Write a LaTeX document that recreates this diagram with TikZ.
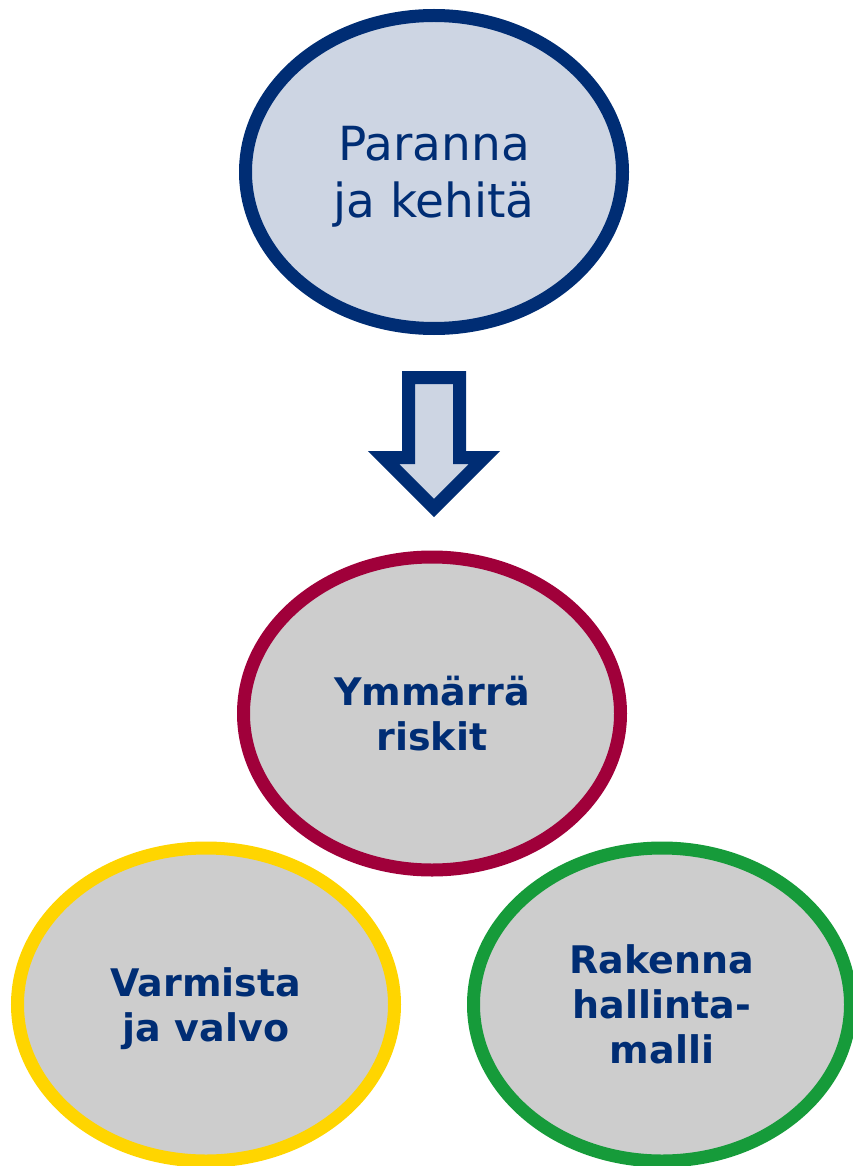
\documentclass[tikz,border=0pt]{standalone}
\usepackage{fontspec}
\setmainfont{DejaVu Sans}
\usetikzlibrary{shapes.geometric,positioning}
\definecolor{darkblue}{HTML}{002D74}
\definecolor{riskred}{HTML}{A0003A}
\definecolor{paleblue}{HTML}{CDD5E3}
\definecolor{ringgray}{HTML}{CDCDCD}
\definecolor{gold}{HTML}{FFD500}
\definecolor{leafgreen}{HTML}{169B3A}
\begin{document}
\begin{tikzpicture}[x=1pt,y=-1pt,line join=miter,
  phase/.style={ellipse,draw,line width=13pt,inner sep=0pt,minimum width=377pt,minimum height=313pt,text depth=0pt,
    fill=ringgray,text=darkblue,align=center,font=\fontsize{38}{45}\selectfont\bfseries}]
\useasboundingbox (0,0) rectangle (853,1166);
\node[phase,fill=paleblue,draw=darkblue,font=\fontsize{47}{57}\selectfont] (improve) at (434,172) {Paranna\\ja kehitä};
% down arrow
\draw[darkblue,line width=13pt,fill=paleblue] (408.5,377.5) -- (459.5,377.5) -- (459.5,457.5) -- (484.5,457.5)
  -- (434,508) -- (383.5,457.5) -- (408.5,457.5) -- cycle;
\node[phase,draw=riskred] (risks) at (432,713.5) {Ymmärrä\\riskit};
\node[phase,draw=gold] (assure) at (206,1004.5) {Varmista\\ja valvo};
\node[phase,draw=leafgreen] (model) at (662,1004.5) {Rakenna\\hallinta-\\malli};
\end{tikzpicture}
\end{document}
